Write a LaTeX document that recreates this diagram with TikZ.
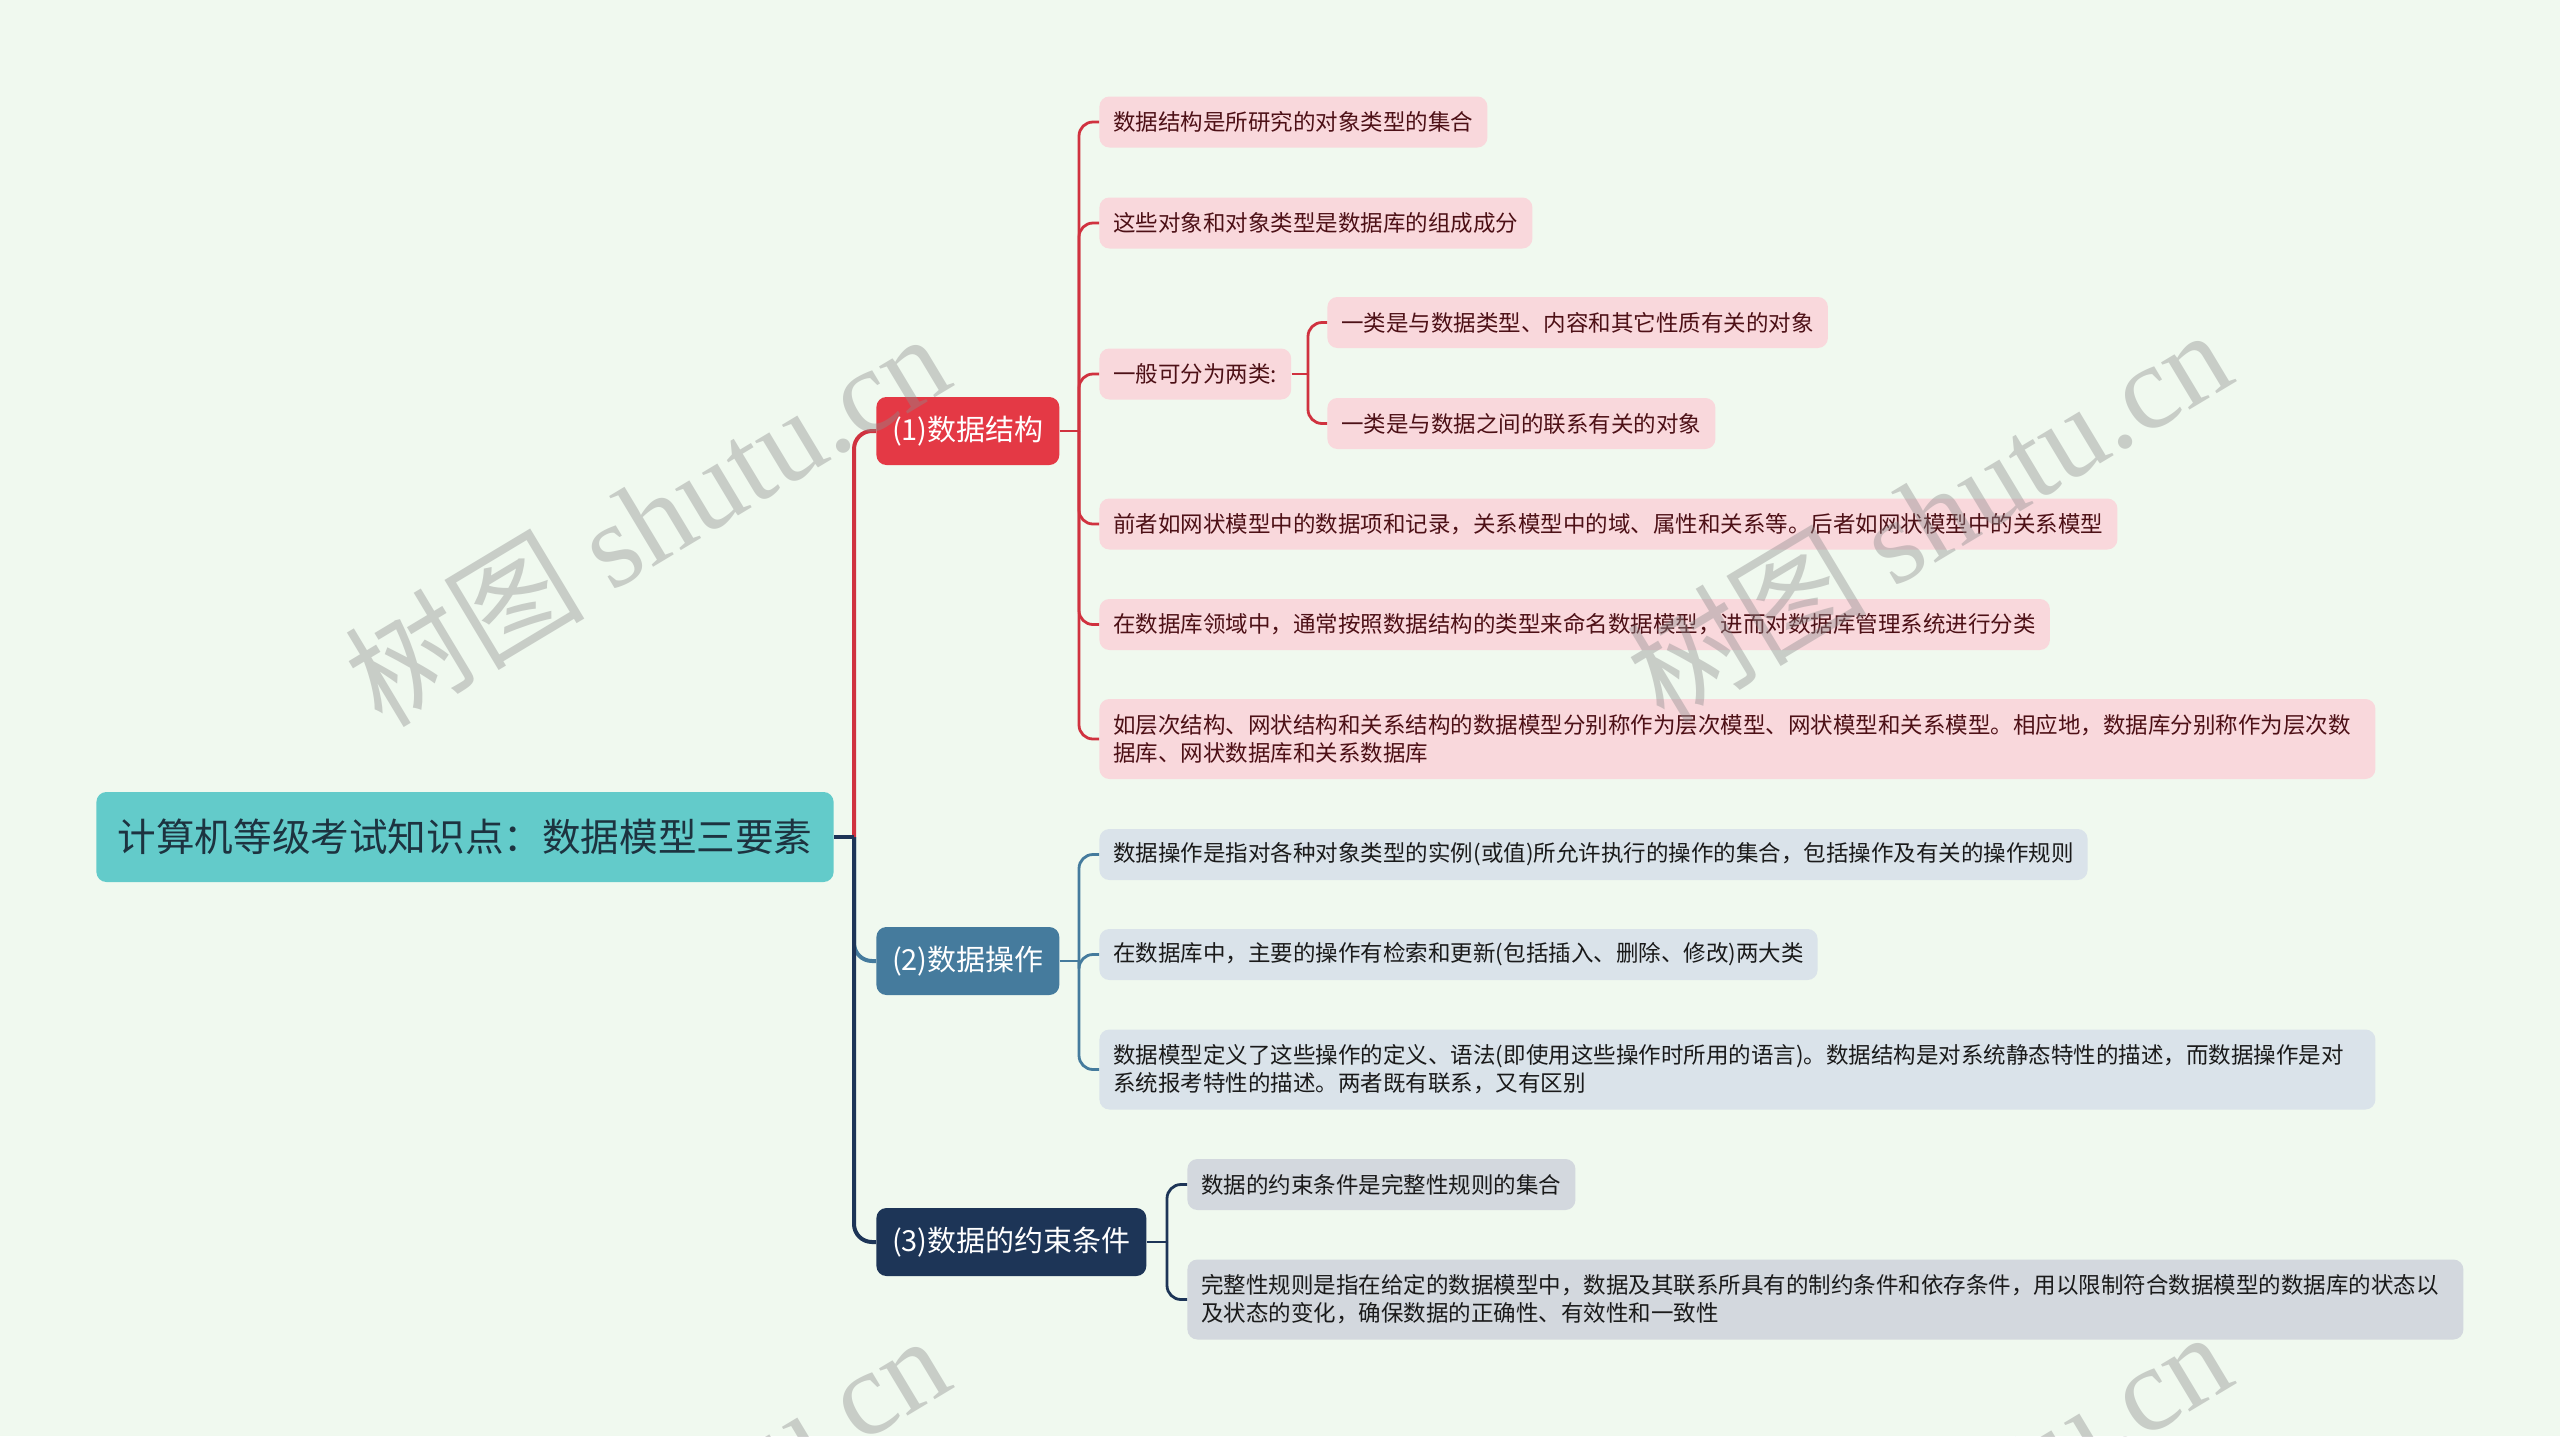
\documentclass[tikz,border=0pt]{standalone}
\usepackage{fontspec}
\setmainfont{Noto Sans CJK SC}
\newfontfamily\wmfont{Liberation Serif}
\definecolor{bgC}{HTML}{F0F9EF}
\definecolor{topicC}{HTML}{63CBCA}
\definecolor{topicT}{HTML}{1D3340}
\definecolor{redC}{HTML}{E43945}
\definecolor{redL}{HTML}{F9D8DC}
\definecolor{redT}{HTML}{4D1016}
\definecolor{redW}{HTML}{D0323F}
\definecolor{blueC}{HTML}{457B9D}
\definecolor{blueL}{HTML}{DAE3EA}
\definecolor{navyC}{HTML}{1D3557}
\definecolor{navyL}{HTML}{D3D8DE}
\definecolor{leafT}{HTML}{1A1A1A}
\begin{document}
\begin{tikzpicture}[x=0.5pt,y=0.5pt]
\tikzstyle{every node}+=[inner sep=0pt]
\tikzstyle{topicbox}=[fill=topicC,text=topicT,rounded corners=5pt,minimum height=45pt,inner xsep=10.6pt,anchor=west,font=\fontsize{19.3}{23}\selectfont]
\tikzstyle{mainbox}=[text=white,rounded corners=5pt,minimum height=34pt,inner xsep=7.8pt,anchor=west,font=\fontsize{14.5}{17}\selectfont]
\tikzstyle{leafbox}=[rounded corners=5pt,minimum height=25.5pt,inner xsep=7pt,anchor=west,align=left,font=\fontsize{11.25}{14}\selectfont]
\tikzstyle{tallbox}=[leafbox,minimum height=40pt,text width=624pt]
\tikzstyle{leafR}=[fill=redL,text=redT]
\tikzstyle{leafB}=[fill=blueL,text=leafT]
\tikzstyle{leafN}=[fill=navyL,text=leafT]
\tikzstyle{trunk}=[line width=2pt,rounded corners=9pt]
\tikzstyle{wire}=[line width=1.4pt,rounded corners=7pt]
\tikzstyle{wm}=[text=black!45,text opacity=0.4,rotate=31,font=\fontsize{60}{60}\selectfont]
\fill[bgC] (0,0) rectangle (2560,-1436);
\useasboundingbox (0,0) rectangle (2560,-1436);
\node[topicbox] (rt) at (96,-837) {计算机等级考试知识点：数据模型三要素};
\node[mainbox,fill=redC] (b1) at (876,-431) {(1)数据结构};
\node[mainbox,fill=blueC] (b2) at (876,-961) {(2)数据操作};
\node[mainbox,fill=navyC] (b3) at (876,-1242) {(3)数据的约束条件};
\node[leafbox,leafR] (l1) at (1099,-122) {数据结构是所研究的对象类型的集合};
\node[leafbox,leafR] (l2) at (1099,-223) {这些对象和对象类型是数据库的组成成分};
\node[leafbox,leafR] (l3) at (1099,-374) {一般可分为两类:};
\node[leafbox,leafR] (l3a) at (1327,-322.5) {一类是与数据类型、内容和其它性质有关的对象};
\node[leafbox,leafR] (l3b) at (1327,-423.5) {一类是与数据之间的联系有关的对象};
\node[leafbox,leafR] (l4) at (1099,-524) {前者如网状模型中的数据项和记录，关系模型中的域、属性和关系等。后者如网状模型中的关系模型};
\node[leafbox,leafR] (l5) at (1099,-624.5) {在数据库领域中，通常按照数据结构的类型来命名数据模型，进而对数据库管理系统进行分类};
\node[tallbox,leafR] (l6) at (1099,-739) {如层次结构、网状结构和关系结构的数据模型分别称作为层次模型、网状模型和关系模型。相应地，数据库分别称作为层次数\\据库、网状数据库和关系数据库};
\node[leafbox,leafB] (m1) at (1099,-854.5) {数据操作是指对各种对象类型的实例(或值)所允许执行的操作的集合，包括操作及有关的操作规则};
\node[leafbox,leafB] (m2) at (1099,-954.5) {在数据库中，主要的操作有检索和更新(包括插入、删除、修改)两大类};
\node[tallbox,leafB] (m3) at (1099,-1069.5) {数据模型定义了这些操作的定义、语法(即使用这些操作时所用的语言)。数据结构是对系统静态特性的描述，而数据操作是对\\系统报考特性的描述。两者既有联系，又有区别};
\node[leafbox,leafN] (n1) at (1187,-1184.5) {数据的约束条件是完整性规则的集合};
\node[tallbox,leafN] (n2) at (1187,-1299.5) {完整性规则是指在给定的数据模型中，数据及其联系所具有的制约条件和依存条件，用以限制符合数据模型的数据库的状态以\\及状态的变化，确保数据的正确性、有效性和一致性};
\coordinate (jr) at (854,-837);
\coordinate (j1) at (1079,-431);
\coordinate (j2) at (1079,-961);
\coordinate (j3) at (1167,-1242);
\coordinate (j13) at (1308,-374);
\draw[trunk,blueC] (jr) |- (b2.west);
\draw[trunk,navyC] (jr) |- (b3.west);
\draw[trunk,redW] (jr) |- (b1.west);
\draw[trunk,navyC,rounded corners=0pt] (rt.east) -- (jr);
\draw[wire,redW] (b1.east) -- (j1);
\foreach \n in {l1,l2,l3,l4,l5,l6}
  \draw[wire,redW] (j1) |- (\n.west);
\draw[wire,redW] (l3.east) -- (j13);
\foreach \n in {l3a,l3b}
  \draw[wire,redW] (j13) |- (\n.west);
\draw[wire,blueC] (b2.east) -- (j2);
\foreach \n in {m1,m2,m3}
  \draw[wire,blueC] (j2) |- (\n.west);
\draw[wire,navyC] (b3.east) -- (j3);
\foreach \n in {n1,n2}
  \draw[wire,navyC] (j3) |- (\n.west);
\node[wm] (w1) at (646,-518) {树图 {\wmfont shutu.cn}};
\node[wm] (w2) at (1928,-514) {树图 {\wmfont shutu.cn}};
\node[wm] (w3) at (646,-1520) {树图 {\wmfont shutu.cn}};
\node[wm] (w4) at (1928,-1516) {树图 {\wmfont shutu.cn}};
\end{tikzpicture}
\end{document}
